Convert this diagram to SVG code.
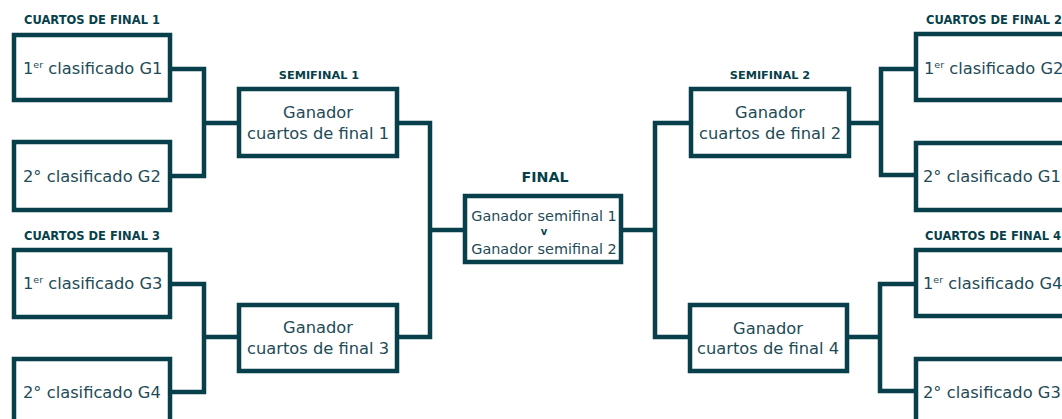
<svg xmlns="http://www.w3.org/2000/svg" width="1062" height="419" viewBox="0 0 1062 419">
<style>
.box{fill:#fff;stroke:#073f4a;stroke-width:4.5}
.con{fill:none;stroke:#073f4a;stroke-width:4.5;stroke-linejoin:miter;stroke-linecap:butt}
.t{font-family:"DejaVu Sans","Liberation Sans",sans-serif;font-size:16.3px;fill:#1e4b56}
.c{text-anchor:middle}
.h{font-family:"DejaVu Sans","Liberation Sans",sans-serif;font-weight:bold;font-size:11.5px;fill:#073f4a}
.f{font-size:14.4px}
.sup{font-size:9.5px}
</style>
<rect width="1062" height="419" fill="#fff"/>
<g id="connectors">
<path class="con" d="M172,69 H204 V176 H172 M204,123 H237"/>
<path class="con" d="M172,284 H204 V392 H172 M204,337 H237"/>
<path class="con" d="M399,123 H430 V337 H399 M430,230 H463"/>
<path class="con" d="M623,230 H655 M689,123 H655 V337 H689"/>
<path class="con" d="M851,123 H881 M914,69 H881 V175 H914"/>
<path class="con" d="M849,337 H880 M914,284 H880 V391 H914"/>
</g>
<g id="qf1-title"><text class="h" x="24" y="24">CUARTOS DE FINAL 1</text></g>
<g id="qf3-title"><text class="h" x="24" y="240">CUARTOS DE FINAL 3</text></g>
<g id="qf2-title"><text class="h" x="926" y="24">CUARTOS DE FINAL 2</text></g>
<g id="qf4-title"><text class="h" x="925" y="240">CUARTOS DE FINAL 4</text></g>
<g id="sf1-title"><text class="h c" x="319" y="79" style="font-size:11.3px">SEMIFINAL 1</text></g>
<g id="sf2-title"><text class="h c" x="770" y="79" style="font-size:11.3px">SEMIFINAL 2</text></g>
<g id="final-title"><text class="h c" x="545" y="182" style="font-size:14.2px">FINAL</text></g>

<g id="qf1-a"><rect class="box" x="14" y="35" width="156" height="65"/><text class="t" x="23" y="74">1<tspan class="sup" dy="-6">er</tspan><tspan dy="6"> clasificado G1</tspan></text></g>
<g id="qf1-b"><rect class="box" x="14" y="142" width="156" height="68"/><text class="t" x="23" y="182">2° clasificado G2</text></g>
<g id="qf3-a"><rect class="box" x="14" y="250" width="156" height="67"/><text class="t" x="23" y="289">1<tspan class="sup" dy="-6">er</tspan><tspan dy="6"> clasificado G3</tspan></text></g>
<g id="qf3-b"><rect class="box" x="14" y="359" width="156" height="80"/><text class="t" x="23" y="398">2° clasificado G4</text></g>

<g id="sf1"><rect class="box" x="239" y="89" width="158" height="67"/><text class="t c" x="318" y="118">Ganador</text><text class="t c" x="318" y="139">cuartos de final 1</text></g>
<g id="sf3"><rect class="box" x="239" y="305" width="158" height="66"/><text class="t c" x="318" y="333">Ganador</text><text class="t c" x="318" y="354">cuartos de final 3</text></g>

<g id="final"><rect class="box" x="465" y="196" width="156" height="66"/><text class="t c f" x="544" y="221">Ganador semifinal 1</text><text class="h c" x="544" y="235" style="font-size:10px">v</text><text class="t c f" x="544" y="254">Ganador semifinal 2</text></g>

<g id="sf2"><rect class="box" x="691" y="89" width="158" height="67"/><text class="t c" x="770" y="118">Ganador</text><text class="t c" x="770" y="139">cuartos de final 2</text></g>
<g id="sf4"><rect class="box" x="690" y="305" width="157" height="66"/><text class="t c" x="768" y="334">Ganador</text><text class="t c" x="768" y="354">cuartos de final 4</text></g>

<g id="qf2-a"><rect class="box" x="916" y="34" width="200" height="66"/><text class="t" x="924" y="74">1<tspan class="sup" dy="-6">er</tspan><tspan dy="6"> clasificado G2</tspan></text></g>
<g id="qf2-b"><rect class="box" x="916" y="143" width="200" height="67"/><text class="t" x="923" y="182">2° clasificado G1</text></g>
<g id="qf4-a"><rect class="box" x="916" y="250" width="200" height="66"/><text class="t" x="923" y="289">1<tspan class="sup" dy="-6">er</tspan><tspan dy="6"> clasificado G4</tspan></text></g>
<g id="qf4-b"><rect class="box" x="916" y="359" width="200" height="80"/><text class="t" x="923" y="398">2° clasificado G3</text></g>
</svg>
